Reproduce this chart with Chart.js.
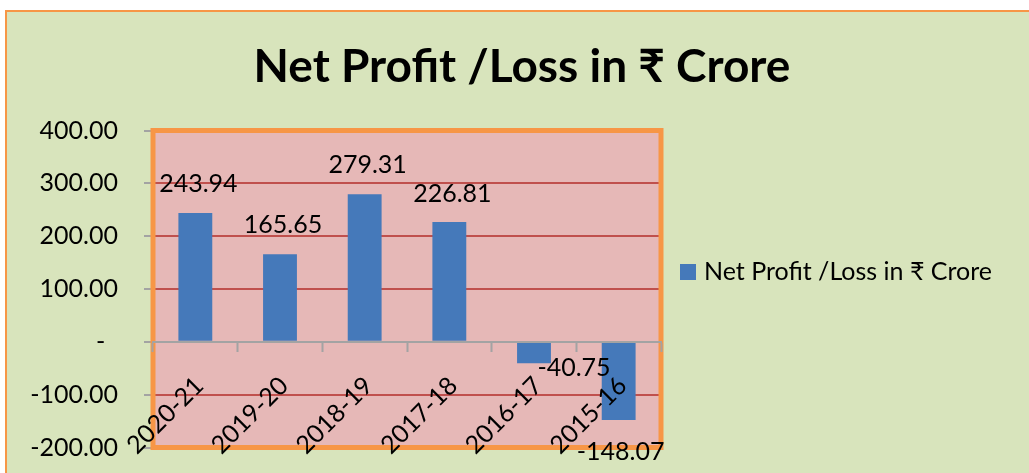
<!DOCTYPE html>
<html>
<head>
<meta charset="utf-8">
<script src="https://cdn.jsdelivr.net/npm/chart.js@4"></script>
<style>
  html, body { margin: 0; padding: 0; background: #ffffff; }
  #wrap { width: 1029px; height: 473px; }
</style>
</head>
<body>
<div id="wrap"><canvas id="c" width="1029" height="473"></canvas></div>
<script>
const categories = ['2020-21', '2019-20', '2018-19', '2017-18', '2016-17', '2015-16'];
const netProfit = [243.94, 165.65, 279.31, 226.81, -40.75, -148.07];
const seriesName = 'Net Profit /Loss in \u20B9 Crore';
const titleText = 'Net Profit /Loss in \u20B9 Crore';
const yTickValues = [400, 300, 200, 100, 0, -100, -200];

const FONT = 'Lato, "Noto Sans", "DejaVu Sans", sans-serif';
const GREEN = '#D8E4BC';
const PLOT = '#E6B8B7';
const ORANGE = '#F79646';
const GRID = '#C0504D';
const BAR = '#4579BA';
const AXIS = '#A3A3A3';
const TXT = 25;

// per-label offsets (styling) relative to bar end
const labelOffsets = [[3, -29], [3, -29], [3, -29], [3, -28], [40, 5], [2, 32]];

const framePlugin = {
  id: 'frame',
  beforeDraw(chart) {
    const ctx = chart.ctx;
    ctx.save();
    ctx.fillStyle = '#ffffff';
    ctx.fillRect(0, 0, chart.width, chart.height);
    ctx.fillStyle = GREEN;
    ctx.fillRect(6, 11, chart.width, chart.height);
    ctx.strokeStyle = ORANGE;
    ctx.lineWidth = 2;
    ctx.strokeRect(6, 11, chart.width + 10, chart.height + 10);
    const a = chart.chartArea;
    ctx.fillStyle = PLOT;
    ctx.fillRect(a.left, a.top, a.right - a.left, a.bottom - a.top);
    // title
    ctx.fillStyle = '#000000';
    ctx.font = 'bold 46px ' + FONT;
    ctx.textAlign = 'center';
    ctx.textBaseline = 'alphabetic';
    ctx.fillText(titleText, 522, 82);
    ctx.restore();
  },
  beforeDatasetsDraw(chart) {
    const ctx = chart.ctx;
    const a = chart.chartArea;
    ctx.save();
    ctx.strokeStyle = ORANGE;
    ctx.lineWidth = 5;
    ctx.strokeRect(a.left, a.top, a.right - a.left, a.bottom - a.top);
    ctx.restore();
  },
  afterDraw(chart) {
    const ctx = chart.ctx;
    const meta = chart.getDatasetMeta(0);
    const ds = chart.data.datasets[0];
    const a = chart.chartArea;
    ctx.save();
    ctx.font = TXT + 'px ' + FONT;
    ctx.fillStyle = '#000000';
    ctx.textAlign = 'center';
    ctx.textBaseline = 'middle';
    meta.data.forEach((bar, i) => {
      const v = ds.data[i];
      const off = labelOffsets[i];
      ctx.fillText(v.toFixed(2), bar.x + off[0], bar.y + off[1]);
    });
    // legend
    const ly = 272;
    ctx.fillStyle = ds.backgroundColor;
    ctx.fillRect(a.right + 19, ly - 8, 16, 16);
    ctx.fillStyle = '#000000';
    ctx.textAlign = 'left';
    ctx.font = '25px ' + FONT;
    ctx.fillText(ds.label, a.right + 43, ly);
    ctx.restore();
  }
};

new Chart(document.getElementById('c'), {
  type: 'bar',
  data: {
    labels: categories,
    datasets: [{
      label: seriesName,
      data: netProfit,
      backgroundColor: BAR,
      borderWidth: 0,
      categoryPercentage: 1.0,
      barPercentage: 0.4
    }]
  },
  options: {
    responsive: false,
    devicePixelRatio: 1,
    animation: false,
    layout: { autoPadding: false, padding: { left: 0, right: 368, top: 130.5, bottom: 25.5 } },
    plugins: {
      legend: { display: false },
      tooltip: { enabled: false },
      title: { display: false }
    },
    scales: {
      x: {
        type: 'category',
        position: { y: 0 },
        offset: true,
        afterFit(scale) { scale.height = 0; scale.paddingTop = 0; scale.paddingBottom = 0; },
        border: { display: true, color: AXIS, width: 2, z: 1 },
        grid: { display: true, z: 1, offset: true, drawOnChartArea: false, drawTicks: true, tickLength: 9, tickColor: AXIS, tickWidth: 2 },
        ticks: { z: 1, autoSkip: false, minRotation: 45, maxRotation: 45, padding: 20, labelOffset: 4, color: '#000000', font: { family: FONT, size: TXT } }
      },
      y: {
        position: 'left',
        min: -200,
        max: 400,
        afterFit(scale) { scale.width = 153; scale.paddingTop = 0; scale.paddingBottom = 0; },
        afterBuildTicks(scale) { scale.ticks = yTickValues.map(v => ({ value: v })); },
        border: { display: false },
        grid: {
          color: (c) => (c.tick && c.tick.value === 0) ? 'rgba(0,0,0,0)' : GRID,
          lineWidth: 2,
          drawTicks: true,
          tickLength: 9,
          tickColor: AXIS,
          tickWidth: 2
        },
        ticks: {
          padding: 26,
          color: '#000000',
          font: { family: FONT, size: TXT },
          callback: (v) => v === 0 ? '-  ' : Number(v).toFixed(2)
        }
      }
    }
  },
  plugins: [framePlugin]
});
</script>
</body>
</html>
